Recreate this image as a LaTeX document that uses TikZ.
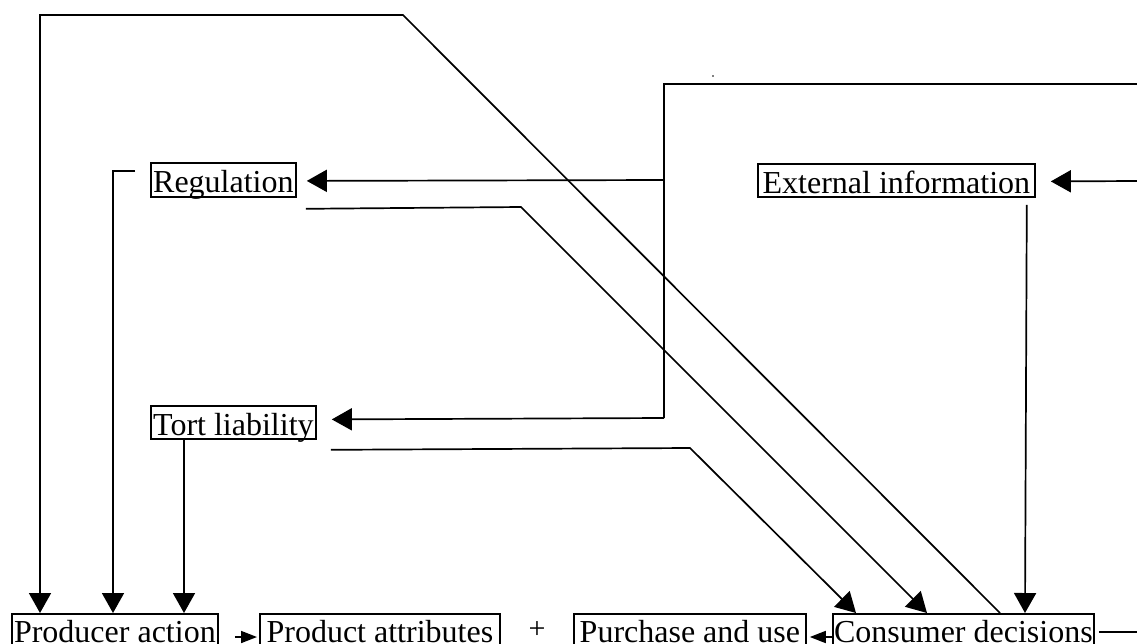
\documentclass[tikz,border=0pt]{standalone}
\usepackage{fontspec}
\setmainfont{Liberation Serif}
\usetikzlibrary{arrows.meta,calc}
\begin{document}
\begin{tikzpicture}[x=1pt,y=-1pt,
  box/.style={draw,line width=1.8pt,inner sep=0pt,anchor=north west,minimum height=34pt,
    text height=26pt,text depth=0pt,font=\fontsize{32}{34}\selectfont},
  lowbox/.style={box,minimum height=31pt},
  conn/.style={line width=1.7pt},
  bigarr/.style={conn,-{Triangle[length=20pt,width=22pt]}},
  smallarr/.style={conn,-{Triangle[length=16pt,width=12pt]}}]
\useasboundingbox (0,0) rectangle (1137,643);
% nodes
\node[lowbox,minimum width=206pt] (prod) at (11,613) {Producer action};
\node[lowbox,minimum width=240pt] (attr) at (259,613) {Product attributes};
\node[font=\fontsize{30}{32}\selectfont,inner sep=0pt,text height=17pt,text depth=0pt,anchor=south] (plus) at (537,639) {+};
\node[lowbox,minimum width=232pt] (purch) at (573,613) {Purchase and use};
\node[lowbox,minimum width=261pt] (cons) at (832,613) {Consumer decisions};
\node[box,minimum width=145pt] (reg) at (150,162) {Regulation};
\node[box,minimum width=165pt,minimum height=33pt] (tort) at (150,405) {Tort liability};
\node[box,minimum width=277pt,minimum height=33pt] (ext) at (757,163) {External information};
% free ends at the picture's edge
\coordinate (topin) at (1137,84);
\coordinate (extin) at (1137,181);
\coordinate (consout) at (1137,632);
\coordinate (branch) at (664,84);
% connectors
\draw[bigarr] ($(cons.north west)+(168,0)$) -- (403,15) -- (40,15) -- ($(prod.north west)+(29,0)$);
\draw[bigarr] ($(reg.west)+(-15,-9)$) -| ($(prod.north west)+(102,0)$);
\draw[bigarr] ($(tort.south west)+(34,0)$) -- ($(prod.north west)+(173,0)$);
\draw[bigarr] ($(reg.south east)+(9,11)$) -- (521,207) -- ($(cons.north west)+(95,0)$);
\draw[bigarr] ($(tort.south east)+(14,10)$) -- (690,448) -- ($(cons.north west)+(24,0)$);
\draw[conn] (topin) -- (branch) -- (664,418);
\draw[bigarr] (664,180) -- ($(reg.east)+(10,1)$);
\draw[bigarr] (664,418) -- ($(tort.east)+(15,-3)$);
\draw[bigarr] (extin) -- ($(ext.east)+(15,1)$);
\draw[bigarr] ($(ext.south east)+(-9,7)$) -- ($(cons.north west)+(193,0)$);
\draw[smallarr] ($(prod.north east)+(16,24)$) -- ($(attr.north west)+(-2,24)$);
\draw[smallarr] ($(cons.north west)+(0,24)$) -- ($(purch.north east)+(3,24)$);
\draw[conn] ($(cons.north east)+(4,19)$) -- (consout);
\fill (713,76) circle (0.9pt);
\end{tikzpicture}
\end{document}
